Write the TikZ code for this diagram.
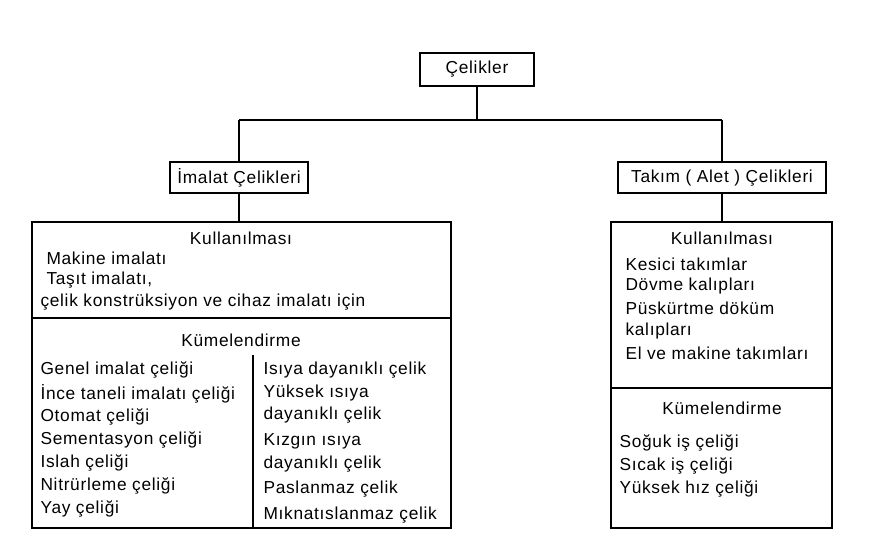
\documentclass[tikz,border=0pt]{standalone}
\usepackage{fontspec}
\setmainfont{Liberation Sans}[LetterSpace=4]
\begin{document}
\begin{tikzpicture}[x=0.75pt,y=-0.75pt,line width=0.8pt]
\tikzset{txt/.style={inner sep=0pt,anchor=west,font=\fontsize{13}{15}\selectfont},
 ctxt/.style={inner sep=0pt,font=\fontsize{13}{15}\selectfont}}
\useasboundingbox (0,0) rectangle (874,541);
% header boxes
\draw (420,53) rectangle (534,86);
\node[ctxt] (cel) at (477,69) {Çelikler};
\draw (170,162) rectangle (308,193);
\node[ctxt] (ima) at (239,178) {İmalat Çelikleri};
\draw (618,162) rectangle (826,193);
\node[ctxt] (tak) at (722,178) {Takım ( Alet ) Çelikleri};
\coordinate (top) at (477,86);
\coordinate (bar) at (477,120);
\draw (top) -- (bar);
\draw (239,120) -- (722,120);
\draw (239,120) -- (239,162);
\draw (722,120) -- (722,162);
\draw (239,193) -- (239,222);
\draw (722,193) -- (722,222);
% left big box
\draw (32,222) rectangle (451,528);
\draw (32,318) -- (451,318);
\draw (253,355) -- (253,528);
\node[ctxt] (lk) at (241,238) {Kullanılması};
\node[txt] (l1) at (46,258) {Makine imalatı};
\node[txt] (l2) at (46,280) {Taşıt imalatı,};
\node[txt] (l3) at (40,302) {çelik konstrüksiyon ve cihaz imalatı için};
\node[ctxt] (lm) at (241,340) {Kümelendirme};
\foreach \t [count=\i] in {Genel imalat çeliği,İnce taneli imalatı çeliği,Otomat çeliği,Sementasyon çeliği,Islah çeliği,Nitrürleme çeliği,Yay çeliği}
  \node[txt] (a\i) at (40,{347+\i*23.2}) {\t};
\foreach \t/\y [count=\i] in {Isıya dayanıklı çelik/370,Yüksek ısıya/393,dayanıklı çelik/415,Kızgın ısıya/441,dayanıklı çelik/464,Paslanmaz çelik/489,Mıknatıslanmaz çelik/515}
  \node[txt] (b\i) at (263,\y) {\t};
% right big box
\draw (611,222) rectangle (832,528);
\draw (611,388) -- (832,388);
\node[ctxt] (rk) at (722,238) {Kullanılması};
\foreach \t [count=\i] in {Kesici takımlar,Dövme kalıpları,Püskürtme döküm,kalıpları,El ve makine takımları}
  \node[txt] (c\i) at (625,{242+\i*22.2}) {\t};
\node[ctxt] (rm) at (722,408) {Kümelendirme};
\foreach \t [count=\i] in {Soğuk iş çeliği,Sıcak iş çeliği,Yüksek hız çeliği}
  \node[txt] (d\i) at (619,{420+\i*23}) {\t};
\end{tikzpicture}
\end{document}
